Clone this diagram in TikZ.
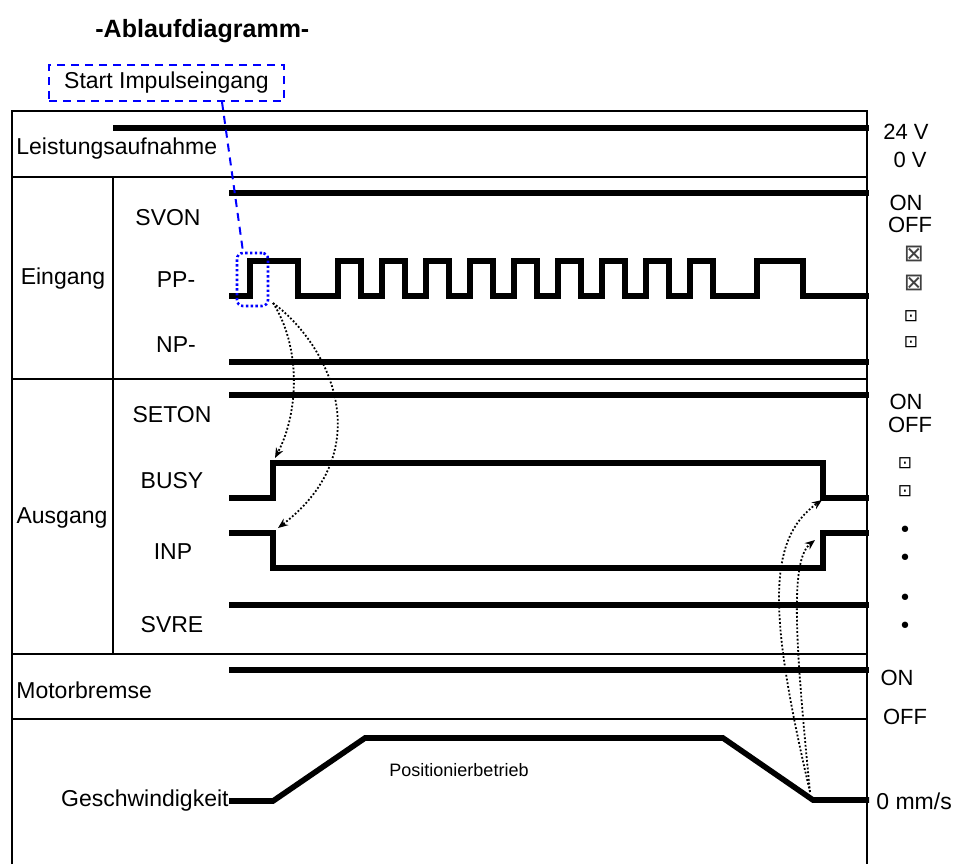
\documentclass[tikz,border=0pt]{standalone}
\usepackage{fontspec}
\setmainfont{Liberation Sans}
\newfontfamily\symfont{DejaVu Sans}
\usepackage{tikz}
\usetikzlibrary{arrows.meta, positioning}
\usepackage{xcolor}
\definecolor{markblue}{RGB}{0, 0, 255}

\tikzset{
  sig/.style={line width=2.8pt},
  rule/.style={line width=1pt},
  lbl/.style={font=\fontsize{11.5}{13}\selectfont, inner sep=0pt},
  lvl/.style={font=\fontsize{11}{13}\selectfont, inner sep=0pt},
  cause/.style={densely dotted, line width=0.9pt, -{Stealth[length=5pt, width=4pt]}},
}

\begin{document}
\begin{tikzpicture}[x=0.5pt, y=-0.5pt]
        \useasboundingbox (0,0) rectangle (968,864);
        % Title
        \node[lbl, font=\fontsize{12.5}{14}\selectfont\bfseries, anchor=west] (title) at (95,31) {-Ablaufdiagramm-};
        % Frame
        \draw[line width=1.3pt] (12,864) -- (12,111) -- (867,111) -- (867,864);
        \draw[rule] (12,177) -- (867,177);
        \draw[rule] (12,379) -- (867,379);
        \draw[rule] (12,654) -- (867,654);
        \draw[rule] (12,719) -- (867,719);
        \draw[rule] (113,177) -- (113,654);
        % Row labels
        \node[lbl, anchor=west] (power) at (16,149) {Leistungsaufnahme};
        \node[lbl] (input) at (63,279) {Eingang};
        \node[lbl] (output) at (62,518) {Ausgang};
        \node[lbl] (svon) at (168,218) {SVON};
        \node[lbl] (pp) at (176,280) {PP-};
        \node[lbl] (np) at (176,345) {NP-};
        \node[lbl] (seton) at (172,415) {SETON};
        \node[lbl] (busy) at (172,481) {BUSY};
        \node[lbl] (inp) at (173,552) {INP};
        \node[lbl] (svre) at (172,625) {SVRE};
        \node[lbl, anchor=west] (brake) at (16,690) {Motorbremse};
        \node[lbl, anchor=east] (speed) at (229,801) {Geschwindigkeit};
        \node[lbl, font=\fontsize{9}{11}\selectfont] (posmode) at (459,770) {Positionierbetrieb};
        % Signals
        \draw[sig] (113,128) -- (869,128);
        \draw[sig] (229,193) -- (869,193);
        \draw[sig] (229,296) -- (250,296) -- (250,261) -- (298,261) -- (298,296)
          \foreach \x in {338,382,...,690} { -- (\x,296) -- (\x,261) -- ({\x+23},261) -- ({\x+23},296) }
          -- (757,296) -- (757,261) -- (803,261) -- (803,296) -- (869,296);
        \draw[sig] (229,362) -- (869,362);
        \draw[sig] (229,395) -- (869,395);
        \draw[sig] (229,498) -- (273,498) -- (273,463) -- (823,463) -- (823,498) -- (869,498);
        \draw[sig] (229,533) -- (273,533) -- (273,568) -- (823,568) -- (823,533) -- (869,533);
        \draw[sig] (229,605) -- (869,605);
        \draw[sig] (229,670) -- (869,670);
        \draw[sig] (speed.east) -- (273,801) -- (365,738) -- (723,738) -- (813,800) -- (869,800);
        % Levels
        \node[lvl] (v24) at (906,132) {24 V};
        \node[lvl] (v0) at (910,160) {0 V};
        \node[lvl] (svonon) at (906,203) {ON};
        \node[lvl] (svonoff) at (910,225) {OFF};
        \node[inner sep=0pt, font=\symfont\fontsize{12}{12}\selectfont, text=black!75] (pphi) at (914,254) {⊠};
        \node[inner sep=0pt, font=\symfont\fontsize{12}{12}\selectfont, text=black!75] (pplo) at (914,283) {⊠};
        \node[inner sep=0pt, font=\symfont\fontsize{8.5}{8}\selectfont] (nphi) at (911,316) {⊡};
        \node[inner sep=0pt, font=\symfont\fontsize{8.5}{8}\selectfont] (nplo) at (911,342) {⊡};
        \node[lvl] (setonon) at (906,402) {ON};
        \node[lvl] (setonoff) at (910,425) {OFF};
        \node[inner sep=0pt, font=\symfont\fontsize{8.5}{8}\selectfont] (busyhi) at (905,463) {⊡};
        \node[inner sep=0pt, font=\symfont\fontsize{8.5}{8}\selectfont] (busylo) at (905,491) {⊡};
        \node[inner sep=0pt, font=\symfont\fontsize{11}{8}\selectfont] (inphi) at (905,532) {•};
        \node[inner sep=0pt, font=\symfont\fontsize{11}{8}\selectfont] (inplo) at (905,560) {•};
        \node[inner sep=0pt, font=\symfont\fontsize{11}{8}\selectfont] (svrehi) at (905,600) {•};
        \node[inner sep=0pt, font=\symfont\fontsize{11}{8}\selectfont] (svrelo) at (905,628) {•};
        \node[lvl] (brakeon) at (897,678) {ON};
        \node[lvl] (brakeoff) at (905,717) {OFF};
        \node[lbl, anchor=west] (zero) at (876,801) {0 mm/s};
        % Start pulse marker
        \node[lbl, draw=markblue, line width=1pt, dash pattern=on 4pt off 3pt, minimum width=117.5pt, minimum height=18pt] (start) at (166.5,83) {Start Impulseingang};
        \node[draw=markblue, line width=1.3pt, dash pattern=on 1.2pt off 1.2pt, rounded corners=3pt, minimum width=15.5pt, minimum height=26.5pt, inner sep=0pt] (ppmark) at (252.5,279.5) {};
        \draw[markblue, line width=1pt, dash pattern=on 4pt off 3pt] ([xshift=27.75pt]start.south) -- ([xshift=-4.75pt]ppmark.north);
        % Cause arrows
        \coordinate (ppedge) at (273,303);
        \coordinate (busyup) at (275,458);
        \coordinate (inpdown) at (278,528);
        \coordinate (stop) at (810,792);
        \coordinate (busydown) at (822,500);
        \coordinate (inpup) at (815,540);
        \draw[cause] (ppedge) .. controls (300,345) and (300,410) .. (busyup);
        \draw[cause] (ppedge) .. controls (330,345) and (380,450) .. (inpdown);
        \draw[cause] (stop) .. controls (770,620) and (765,540) .. (busydown);
        \draw[cause] (stop) .. controls (795,640) and (790,560) .. (inpup);
    \end{tikzpicture}
\end{document}
